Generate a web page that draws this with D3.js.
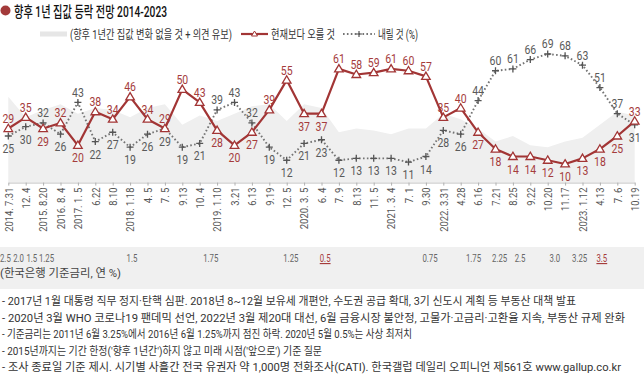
<!DOCTYPE html>
<html><head><meta charset="utf-8">
<script src="https://cdn.jsdelivr.net/npm/d3@7"></script>
<style>
html,body{margin:0;padding:0;background:#fff;}
svg{display:block;}
</style></head>
<body>
<script>
// ---- data ----
const dates = ["2014. 7.31","12. 4","2015. 8.20","2016. 8. 4","2017. 1. 5","6.22","8.10","2018. 1.18","4. 5","7. 5","9.13","10. 4","2019. 1.10","3.21","6.13","9.19","12. 5","2020. 3. 5","6. 4","7. 9","8.13","11. 5","2021. 3. 4","7. 1","9.30","2022. 3.31","4.28","6.16","7.21","8.25","9.22","10.20","11.17","2023. 1.12","4.13","7. 6","10.19"];
const upVals   = [29,35,29,32,20,38,34,46,34,29,50,43,28,20,27,39,55,37,37,61,58,59,61,60,57,35,40,27,18,14,14,12,10,13,18,25,33];
const downVals = [25,30,32,26,43,22,27,19,26,29,19,21,39,43,32,19,12,21,23,12,13,13,13,11,14,28,26,44,60,61,66,69,68,63,51,37,31];
const bothBelow = ["2020. 3. 5","6. 4"];
const rateLabels = ["2.5","2.0","1.5","1.25","1.5","1.75","1.25","0.5","0.75","1.75","2.25","2.5","3.0","3.25","3.5"];
const rateAt     = [-0.477,0.28,1.04,1.76,6.8,11.2,15.8,17.9,23.8,26.3,27.8,29.1,31.1,32.4,33.8];
const rateMarkIdx = [7, 14];
const titleText = "향후 1년 집값 등락 전망 2014-2023";
const legendTexts = ["(향후 1년간 집값 변화 없을 것 + 의견 유보)","현재보다 오를 것","내릴 것 (%)"];
const rateCaption = "(한국은행 기준금리, 연 %)";
const notes = [
 "- 2017년 1월 대통령 직무 정지·탄핵 심판. 2018년 8~12월 보유세 개편안, 수도권 공급 확대, 3기 신도시 계획 등 부동산 대책 발표",
 "- 2020년 3월 WHO 코로나19 팬데믹 선언, 2022년 3월 제20대 대선, 6월 금융시장 불안정, 고물가·고금리·고환율 지속, 부동산 규제 완화",
 "- 기준금리는 2011년 6월 3.25%에서 2016년 6월 1.25%까지 점진 하락. 2020년 5월 0.5%는 사상 최저치",
 "- 2015년까지는 기간 한정('향후 1년간')하지 않고 미래 시점('앞으로') 기준 질문",
 "- 조사 종료일 기준 제시. 시기별 사흘간 전국 유권자 약 1,000명 전화조사(CATI). 한국갤럽 데일리 오피니언 제561호 www.gallup.co.kr"
];

// ---- layout ----
const W = 644, H = 382;
const RED = "#a23535", RED_T = "#a53c3c", GRAY_T = "#5a5a5a", DOT = "#747474";
const NUM = "Roboto,sans-serif";
const KR = "Roboto,'Noto Sans CJK KR',sans-serif";
// narrow-number width helper (reference uses a condensed face)
const numW = (s, dw, pw) => [...String(s)].reduce((a,c)=>a + (c==="." ? pw : dw), 0);

const svg = d3.select("body").append("svg").attr("width", W).attr("height", H);

const x = d3.scaleLinear().domain([0, dates.length - 1]).range([8.3, 634.7]);
const y = d3.scaleLinear().domain([0, 100]).range([182.6, -3.8]);

// rate band
svg.append("rect").attr("x",0).attr("y",247).attr("width",W).attr("height",42).attr("fill","#f0f0f0");

// area (no change + undecided)
const rows = dates.map((d,i)=>({d, i, up: upVals[i], down: downVals[i], rest: 100 - upVals[i] - downVals[i]}));
svg.append("path").datum(rows)
  .attr("fill","#efefef")
  .attr("d", d3.area().x(r=>x(r.i)).y0(y(0)).y1(r=>y(r.rest)));

// axis
const ax = svg.append("g").attr("transform",`translate(0,${y(0)})`)
  .call(d3.axisBottom(x).tickValues(d3.range(dates.length)).tickFormat(i=>dates[i]).tickSize(3).tickSizeOuter(0));
ax.select(".domain").attr("stroke","#c4c4c4");
ax.selectAll(".tick line").attr("stroke","#b0b0b0");
ax.selectAll(".tick text")
  .attr("font-family", NUM).attr("font-size", 11).attr("fill", "#555")
  .attr("text-anchor","end").attr("dy","0.35em").attr("y",0).attr("x",-5)
  .attr("transform","rotate(-90)")
  .attr("textLength", function(){ return numW(this.textContent.replace(/ /g,""), 5.2, 2.6) + (this.textContent.split(" ").length-1)*2.6; })
  .attr("lengthAdjust","spacingAndGlyphs");

// down line (dotted)
const line = (key)=>d3.line().x(r=>x(r.i)).y(r=>y(r[key]));
svg.append("path").datum(rows).attr("fill","none").attr("stroke",DOT)
  .attr("stroke-width",1.9).attr("stroke-dasharray","1.6 2.3").attr("d", line("down"));
// up line
svg.append("path").datum(rows).attr("fill","none").attr("stroke",RED)
  .attr("stroke-width",2.2).attr("stroke-linejoin","round").attr("d", line("up"));

// plus markers
svg.append("g").selectAll("path").data(rows).join("path")
  .attr("transform", r=>`translate(${x(r.i)},${y(r.down)})`)
  .attr("d","M-3.5,0H3.5M0,-3.5V3.5").attr("stroke","#555").attr("stroke-width",1.3);
// triangle markers
svg.append("g").selectAll("path").data(rows).join("path")
  .attr("transform", r=>`translate(${x(r.i)},${y(r.up)})`)
  .attr("d","M0,-4.3L4.3,3L-4.3,3Z").attr("fill","#fff").attr("stroke",RED).attr("stroke-width",1.3);

// value labels
const upAbove = r => !bothBelow.includes(r.d) && r.up >= r.down;
const downAbove = r => !bothBelow.includes(r.d) && r.down > r.up;
const lab = svg.append("g").attr("font-family",NUM).attr("font-size",13).attr("text-anchor","middle");
lab.selectAll("text.u").data(rows).join("text").attr("class","u")
  .attr("x", r=>x(r.i)).attr("y", r=> upAbove(r) ? y(r.up)-5.5 : y(r.up)+17)
  .attr("textLength", r=>numW(r.up, 5.9, 2.6)).attr("lengthAdjust","spacingAndGlyphs")
  .attr("fill",RED_T).text(r=>r.up);
lab.selectAll("text.d").data(rows).join("text").attr("class","d")
  .attr("x", r=>x(r.i)).attr("y", r=> downAbove(r) ? y(r.down)-5.5 : y(r.down)+17)
  .attr("textLength", r=>numW(r.down, 5.9, 2.6)).attr("lengthAdjust","spacingAndGlyphs")
  .attr("fill",GRAY_T).text(r=>r.down);

// title
svg.append("circle").attr("cx",5.5).attr("cy",10.5).attr("r",5).attr("fill","#a33a3a");
svg.append("text").attr("x",14).attr("y",16.5).attr("font-family",KR).attr("font-size",15).attr("font-weight",500)
  .attr("fill","#111").attr("textLength",153).attr("lengthAdjust","spacingAndGlyphs").text(titleText);

// legend
const lg = svg.append("g").attr("font-family",KR).attr("font-size",12).attr("fill","#333");
lg.append("rect").attr("x",40).attr("y",31.5).attr("width",27).attr("height",5).attr("fill","#e6e6e6");
lg.append("text").attr("x",70).attr("y",38.5).attr("textLength",162).attr("lengthAdjust","spacingAndGlyphs").text(legendTexts[0]);
lg.append("line").attr("x1",241).attr("x2",268).attr("y1",34).attr("y2",34).attr("stroke",RED).attr("stroke-width",2.2);
lg.append("path").attr("transform","translate(254.5,34)").attr("d","M0,-3L3,2L-3,2Z").attr("fill","#fff").attr("stroke",RED).attr("stroke-width",1);
lg.append("text").attr("x",271).attr("y",38.5).attr("textLength",64).attr("lengthAdjust","spacingAndGlyphs").text(legendTexts[1]);
lg.append("line").attr("x1",343).attr("x2",375).attr("y1",34).attr("y2",34).attr("stroke",DOT).attr("stroke-width",1.9).attr("stroke-dasharray","1.6 2.3");
lg.append("path").attr("transform","translate(359,34)").attr("d","M-3,0H3M0,-3V3").attr("stroke","#555").attr("stroke-width",1.2);
lg.append("text").attr("x",378).attr("y",38.5).attr("textLength",40).attr("lengthAdjust","spacingAndGlyphs").text(legendTexts[2]);

// rate row
const rg = svg.append("g").attr("font-family",NUM).attr("font-size",11.5);
rateLabels.forEach((t,k)=>{
  const hi = rateMarkIdx.includes(k);
  const tx = rg.append("text").attr("x", Math.max(0, x(rateAt[k]))).attr("y",262)
    .attr("textLength", numW(t, 4.4, 2.0)).attr("lengthAdjust","spacingAndGlyphs")
    .attr("fill", hi ? RED_T : "#666").text(t);
  if (hi) tx.attr("text-decoration","underline");
});
svg.append("text").attr("x",0).attr("y",277).attr("font-family",KR).attr("font-size",11.5).attr("fill","#444")
  .attr("textLength",121).attr("lengthAdjust","spacingAndGlyphs").text(rateCaption);

// notes
const noteW = [574, 623, 410, 320, 619];
svg.append("g").attr("font-family",KR).attr("font-size",11.5).attr("fill","#333")
  .selectAll("text").data(notes).join("text")
  .attr("x",2).attr("y",(d,i)=>305 + i*16.6)
  .attr("textLength",(d,i)=>noteW[i]).attr("lengthAdjust","spacingAndGlyphs")
  .text(d=>d);
</script>
</body></html>
